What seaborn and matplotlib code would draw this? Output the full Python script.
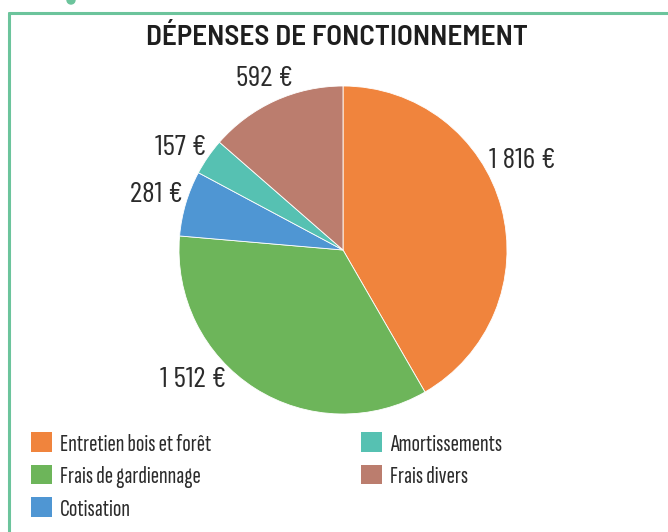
import matplotlib
matplotlib.use("Agg")
import matplotlib.pyplot as plt
import matplotlib.patches as mpatches
import matplotlib.lines as mlines
import seaborn as sns
from matplotlib import font_manager

sns.set_theme(style="white")

names = {f.name for f in font_manager.fontManager.ttflist}


def fam(prefs):
    return [n for n in prefs if n in names] + ["DejaVu Sans"]


FAM_TITLE = fam(["Barlow Semi Condensed", "Barlow Condensed", "Roboto Condensed"])
FAM_VAL = fam(["Barlow Condensed", "Roboto Condensed", "Liberation Sans Narrow"])
FAM_LEG = fam(["Sofia Sans Extra Condensed", "Saira ExtraCondensed", "Barlow Condensed"])
plt.rcParams['font.family'] = FAM_VAL

# Data
categories = ["Entretien bois et forêt", "Frais de gardiennage", "Cotisation",
              "Amortissements", "Frais divers"]
values = [1816, 1512, 281, 157, 592]
value_labels = ["1 816 €", "1 512 €", "281 €", "157 €", "592 €"]
colors = ["#F0843D", "#6DB55A", "#4F96D3", "#56C1B2", "#BB7D6E"]
title = "DÉPENSES DE FONCTIONNEMENT"
# label positions in pie units (radius = 1)
label_pos = [(1.09, 0.545), (-0.915, -0.79), (-1.14, 0.335), (-0.99, 0.62), (-0.48, 1.04)]

W, H = 668, 532
fig = plt.figure(figsize=(W / 100, H / 100), dpi=100)
fig.patch.set_facecolor("white")

# frame lines
border = "#6CC49C"
fig.add_artist(mlines.Line2D([9 / W, 1], [1 - 13 / H, 1 - 13 / H], color=border, lw=2.2, transform=fig.transFigure))
fig.add_artist(mlines.Line2D([9 / W, 9 / W], [0, 1 - 13 / H], color=border, lw=2.2, transform=fig.transFigure))
fig.add_artist(mpatches.Ellipse((71 / W, 1.0), 8 / W, 8 / H, color=border, transform=fig.transFigure))

cx, cy, r = 343, 250, 164
ax = fig.add_axes([(cx - r) / W, (H - cy - r) / H, 2 * r / W, 2 * r / H])
wedges, _ = ax.pie(values, colors=colors, startangle=90, counterclock=False,
                   wedgeprops=dict(linewidth=0.6, edgecolor="white"))
ax.set_xlim(-1, 1)
ax.set_ylim(-1, 1)
ax.set_aspect("equal")
ax.axis("off")

for (x, y), lab in zip(label_pos, value_labels):
    ax.text(x, y, lab, ha="center", va="center", fontsize=21.5, color="#2b2b2b",
            clip_on=False, family=FAM_VAL)

fig.text(337 / W, 1 - 37 / H, title, ha="center", va="center", fontsize=21,
         fontweight="semibold", color="#1e1e1e", family=FAM_TITLE)

handles = [mpatches.Patch(facecolor=c, edgecolor="none", label=l) for c, l in zip(colors, categories)]
leg = fig.legend(handles=handles, loc="upper left", bbox_to_anchor=(31 / W, 1 - 432 / H), ncol=2,
                 frameon=False, prop=dict(family=FAM_LEG, size=18), handlelength=0.84, handleheight=0.84,
                 handletextpad=0.32, columnspacing=6.0, labelspacing=0.36, borderaxespad=0,
                 borderpad=0, labelcolor="#2b2b2b")

fig.savefig("out.png", dpi=100, facecolor="white")
